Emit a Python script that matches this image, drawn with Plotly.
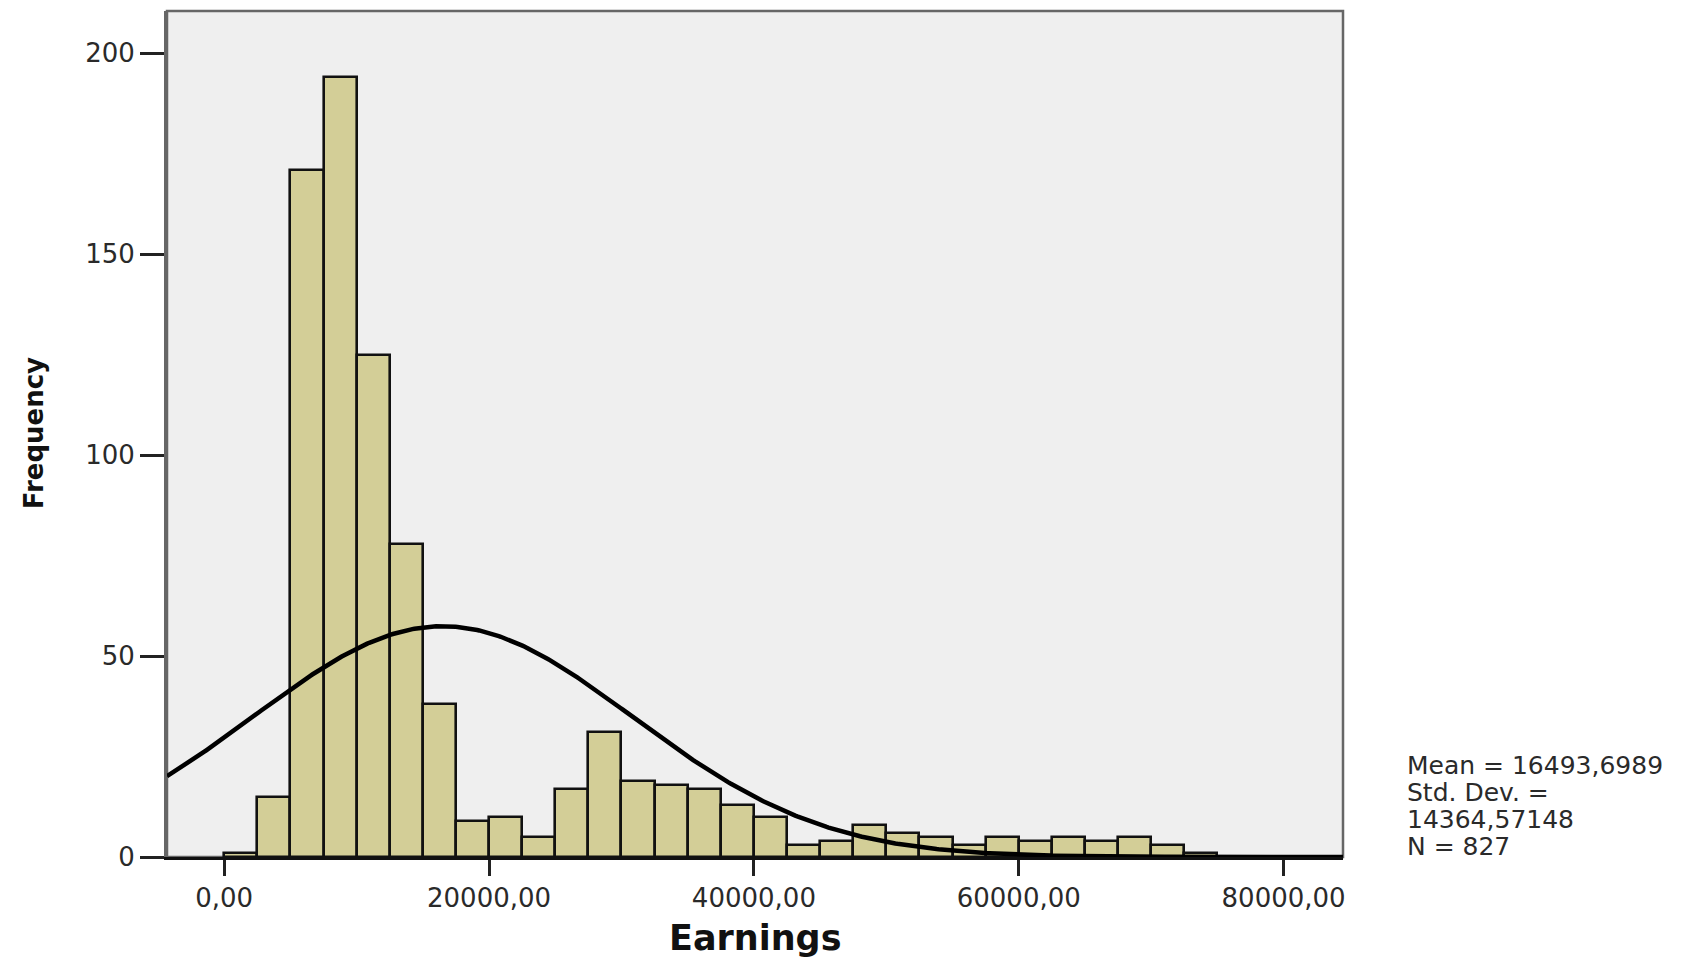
import numpy as np
import plotly.graph_objects as go

# Histogram of earnings: bins of 2500 starting at 0
bin_width = 2500
bin_starts = [i * bin_width for i in range(30)]
counts = [1, 15, 171, 194, 125, 78, 38, 9, 10, 5,
          17, 31, 19, 18, 17, 13, 10, 3, 4, 8,
          6, 5, 3, 5, 4, 5, 4, 5, 3, 1]

# Summary statistics
mean_val = 16493.6989
std_val = 14364.57148
n_obs = 827
stats_lines = ["Mean = 16493,6989", "Std. Dev. =", "14364,57148", "N = 827"]

# Axis ticks
x_tickvals = [0, 20000, 40000, 60000, 80000]
x_ticktext = ["0,00", "20000,00", "40000,00", "60000,00", "80000,00"]
y_tickvals = [0, 50, 100, 150, 200]
x_range = [-4318, 84485]
y_range = [0, 210.5]

bar_fill = "#d3ce97"
plot_bg = "#efefef"

centers = [s + bin_width / 2 for s in bin_starts]

fig = go.Figure()
fig.add_trace(go.Bar(
    x=centers, y=counts, width=bin_width,
    marker=dict(color=bar_fill, line=dict(color="#111111", width=2.6)),
    hoverinfo="skip", showlegend=False,
))

# Normal curve scaled to counts per bin
xs = np.linspace(x_range[0], x_range[1], 600)
ys = n_obs * bin_width / (std_val * np.sqrt(2 * np.pi)) * np.exp(-0.5 * ((xs - mean_val) / std_val) ** 2)
fig.add_trace(go.Scatter(
    x=xs, y=ys, mode="lines",
    line=dict(color="#000000", width=4.5),
    hoverinfo="skip", showlegend=False,
))

tick_font = dict(family="DejaVu Sans", size=26, color="#2a2a2a")

fig.update_layout(
    width=1692, height=958,
    margin=dict(l=167, r=349, t=11, b=101),
    paper_bgcolor="white",
    plot_bgcolor=plot_bg,
    bargap=0,
    xaxis=dict(
        range=x_range, showgrid=False, zeroline=False,
        tickmode="array", tickvals=x_tickvals, ticktext=x_ticktext,
        ticks="outside", ticklen=16, tickwidth=2.5, tickcolor="#222222",
        showline=True, linecolor="#111111", linewidth=3,
        tickfont=tick_font,
    ),
    yaxis=dict(
        range=y_range, showgrid=False, zeroline=False,
        tickmode="array", tickvals=y_tickvals,
        ticktext=[str(v) for v in y_tickvals],
        ticks="outside", ticklen=24, tickwidth=2.5, tickcolor="#222222",
        showline=True, linecolor="#666666", linewidth=3,
        tickfont=tick_font,
    ),
    shapes=[dict(
        type="rect", xref="paper", yref="paper", x0=0, x1=1, y0=0, y1=1,
        line=dict(color="#666666", width=2.5), layer="below",
    )],
)

annotations = [
    dict(text="<b>Earnings</b>", xref="paper", yref="paper", x=0.5, y=-0.0957,
         xanchor="center", yanchor="middle", showarrow=False,
         font=dict(family="DejaVu Sans", size=35, color="#111111")),
    dict(text="<b>Frequency</b>", xref="paper", yref="paper", x=-0.1131, y=0.501,
         xanchor="center", yanchor="middle", showarrow=False, textangle=-90,
         font=dict(family="DejaVu Sans", size=26, color="#111111")),
]
line_y_px = [765, 792, 819, 846]
for txt, ypx in zip(stats_lines, line_y_px):
    annotations.append(dict(
        text=txt, xref="paper", yref="paper",
        x=(1405 - 167) / 1176, y=(857 - ypx) / 846,
        xanchor="left", yanchor="middle", showarrow=False,
        font=dict(family="DejaVu Sans", size=25, color="#2a2a2a"),
    ))
fig.update_layout(annotations=annotations)

fig.write_html("out.html")
